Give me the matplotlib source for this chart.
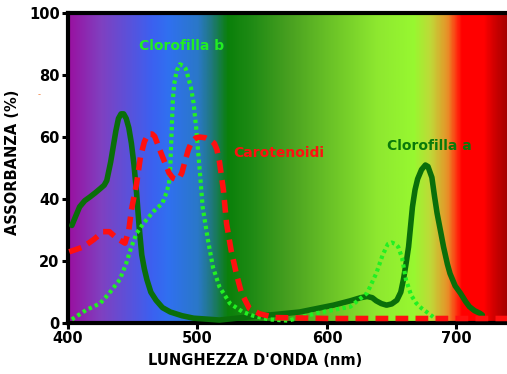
import numpy as np
import matplotlib
matplotlib.use("Agg")
import matplotlib.pyplot as plt
from matplotlib.colors import LinearSegmentedColormap

# spectrum background stops (wavelength nm, colour)
spec_nm = [400, 425, 464, 477, 500, 510, 523, 541, 570, 608, 639, 667, 680, 693, 700, 704, 721, 729, 740]
spec_col = ['#9a10a0', '#8040c0', '#3c60f0', '#3070f0', '#2a78c8', '#207880', '#0a800a',
            '#1e8a14', '#48a020', '#70c828', '#8ee830', '#98f830', '#c0d838', '#e89028',
            '#ff3010', '#ff0000', '#ff0000', '#d00000', '#a00000']

# Clorofilla a
chla_nm = [403, 406, 409, 413, 417, 421, 425, 428, 430, 433, 435, 437, 439, 441, 443, 445,
           447, 449, 451, 453, 455, 457, 459, 461, 464, 468, 473, 479, 488, 497, 517,
           540, 560, 579, 605, 618, 626, 631, 635, 638, 642, 646, 650, 654, 657, 659, 661,
           663, 666, 668, 670, 673, 676, 678, 681, 683, 685, 688, 690, 693, 695, 699,
           703, 707, 710, 714, 718, 720]
chla_val = [31.5, 34.5, 37.5, 39.5, 40.7, 42, 43.4, 44.5, 46, 52, 57, 62, 66, 67.5, 67.5, 66,
            63, 58, 51, 42, 31, 22, 17.5, 14, 10, 7.4, 5, 3.6, 2.4, 1.6, 1.0,
            2.0, 2.8, 3.6, 5.8, 7.2, 8.2, 8.6, 8.2, 7.2, 6.3, 5.8, 6.2, 7.4, 10, 14, 19,
            24.6, 37.5, 43, 46.5, 49.5, 51, 50.5, 47, 41, 35.5, 29, 24.6, 19, 16, 12,
            9.7, 7, 5.3, 4, 3.2, 2.6]

# Clorofilla b
chlb_nm = [403, 414, 425, 432, 440, 445, 449, 453, 458, 466, 473, 476, 478, 479, 480, 481,
           482, 484, 486.5, 489, 491, 493, 495, 497, 499, 502, 504, 508, 512, 517, 525,
           535, 542, 555, 570, 592, 618, 631, 638, 643, 647, 650, 653, 655, 658, 661,
           665, 669, 673, 677, 682]
chlb_val = [1.2, 4.2, 6.4, 9.7, 14, 19.3, 24.6, 29, 32, 36, 38.7, 42, 45, 50, 61, 72,
            77, 81.5, 83.5, 83, 82, 79, 76, 71, 63, 48, 37.5, 27, 18, 11.7, 6.4,
            3.6, 2.5, 1.2, 0.8, 3.2, 5.3, 9.7, 16, 22, 25.5, 26, 25.5, 24.6, 21, 14,
            9, 6.4, 4.8, 3.6, 2]

# Carotenoidi
car_nm = [401, 412, 420, 427, 432, 438, 444, 447, 449, 453, 456, 459, 462, 465, 467, 471,
          475, 478, 481, 484, 486, 488, 490, 493, 495.5, 499, 502, 506, 510, 513, 515,
          517, 520, 522.5, 526, 530, 534, 540, 548, 560, 600, 650, 700, 740]
car_val = [23, 24.6, 27, 29.5, 29.5, 27.3, 25.8, 30, 36.5, 45, 53.6, 58.5, 61, 61, 60.2, 55.8,
           51.6, 48.5, 46.8, 46.3, 46.8, 48.5, 51.6, 56, 58.5, 59.8, 60, 59.8, 59, 58, 56,
           52, 43, 32, 23.5, 16, 9.7, 4.8, 3.0, 1.8, 1.5, 1.5, 1.5, 1.5]

xticks = [400, 500, 600, 700]
yticks = [0, 20, 40, 60, 80, 100]

fig = plt.figure(figsize=(5.07, 3.74), dpi=100)
ax = fig.add_axes([0.134, 0.136, 0.866, 0.829])

# spectrum background
pos = [(w - spec_nm[0]) / (spec_nm[-1] - spec_nm[0]) for w in spec_nm]
cmap = LinearSegmentedColormap.from_list('spec', list(zip(pos, spec_col)), N=512)
grad = np.linspace(0, 1, 600).reshape(1, -1)
ax.imshow(grad, cmap=cmap, aspect='auto', extent=[400, 740, 0, 100], zorder=0)

ax.plot(chla_nm, chla_val, color='#0a6e0a', lw=4.0, solid_capstyle='round',
        solid_joinstyle='round', zorder=3)
ax.plot(chlb_nm, chlb_val, color='#22f022', lw=3.0, linestyle=(0, (0.8, 0.8)),
        dash_capstyle='butt', zorder=4)
ax.plot(car_nm, car_val, color='#ff1010', lw=4.0, linestyle=(0, (2.3, 1.3)),
        dash_capstyle='butt', zorder=5)

ax.text(488, 89.5, 'Clorofilla b', color='#22ee22', fontsize=10, fontweight='bold',
        ha='center', va='center', zorder=6)
ax.text(528, 55, 'Carotenoidi', color='#ff1010', fontsize=10, fontweight='bold',
        ha='left', va='center', zorder=6)
ax.text(646, 57, 'Clorofilla a', color='#0a7a0a', fontsize=10, fontweight='bold',
        ha='left', va='center', zorder=6)

ax.set_xlim(400, 739)
ax.set_ylim(0, 100)
ax.set_xticks(xticks)
ax.set_yticks(yticks)
for lab in ax.get_xticklabels() + ax.get_yticklabels():
    lab.set_fontweight('bold')
    lab.set_fontsize(10.5)
ax.tick_params(direction='out', length=4, width=2.2, pad=2)

for s in ['left', 'bottom', 'top']:
    ax.spines[s].set_linewidth(3)
ax.spines['right'].set_visible(False)

ax.set_xlabel("LUNGHEZZA D'ONDA (nm)", fontsize=10.5, fontweight='bold')
ax.xaxis.set_label_coords(0.426, -0.095)
ax.set_ylabel('ASSORBANZA (%)', fontsize=10.5, fontweight='bold')
ax.yaxis.set_label_coords(-0.11, 0.52)

# small orange mark left of the axis
fig.text(39 / 507, 1 - 95 / 374, '-', color='#f08040', fontsize=6,
         ha='center', va='center')

fig.savefig('out.png', dpi=100)
